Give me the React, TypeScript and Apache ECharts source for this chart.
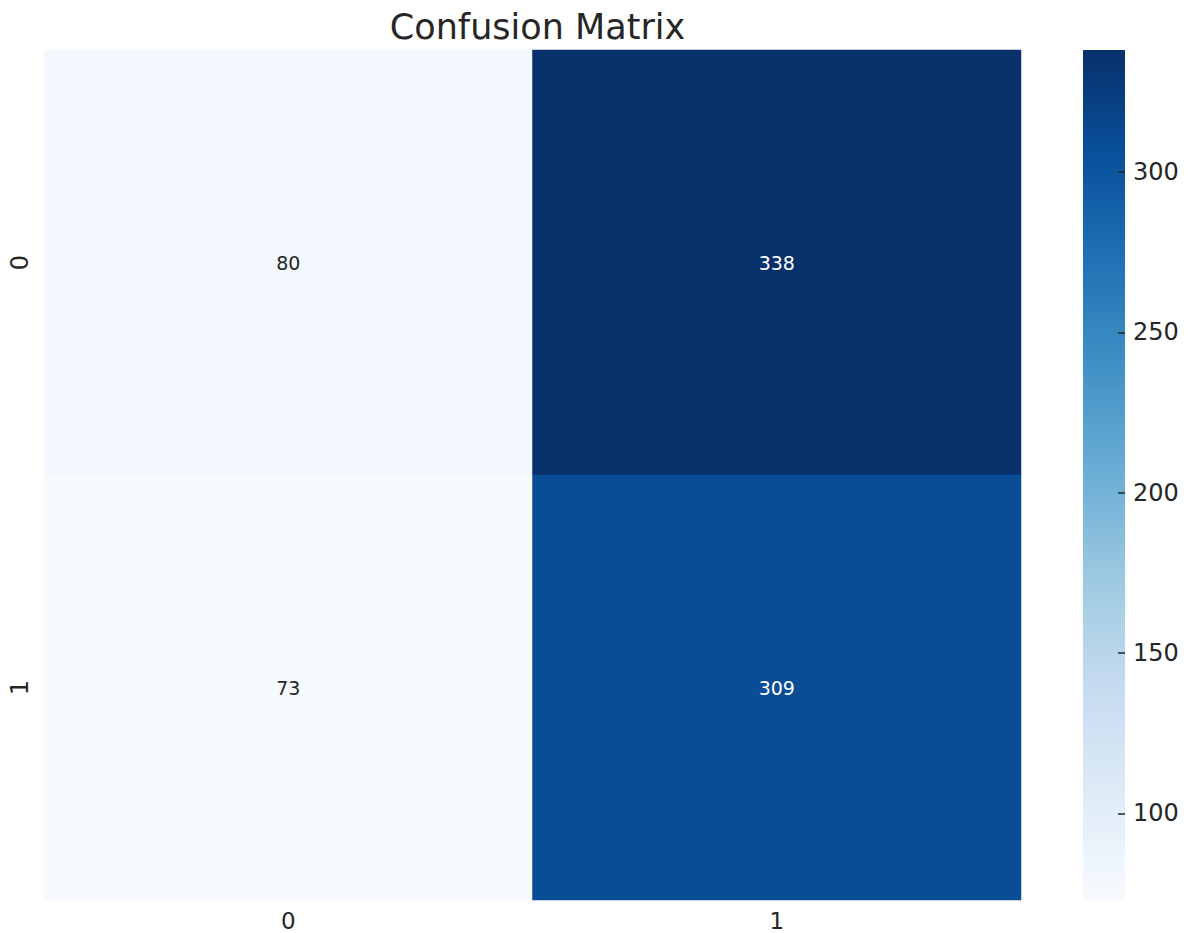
import React, { useEffect, useRef } from "react";
import * as echarts from "echarts";

const xCategories = ["0", "1"];
const yCategories = ["0", "1"];
// [row][col]
const matrix = [
  [80, 338],
  [73, 309],
];
const colorbarTicks = [100, 150, 200, 250, 300];
const blues = ["#f7fbff", "#deebf7", "#c6dbef", "#9ecae1", "#6baed6", "#4292c6", "#2171b5", "#08519c", "#08306b"];

const FONT = "DejaVu Sans";
const TXT = "#262626";

export default function App() {
  const ref = useRef<HTMLDivElement>(null);
  useEffect(() => {
    if (!ref.current) return;
    const chart = echarts.init(ref.current, null, { renderer: "svg" });
    const vmin = Math.min(...matrix.flat());
    const vmax = Math.max(...matrix.flat());
    const mid = (vmin + vmax) / 2;
    const data: any[] = [];
    matrix.forEach((row, r) =>
      row.forEach((v, c) => {
        data.push({
          value: [c, r, v],
          label: { color: v > mid ? "#ffffff" : TXT },
        });
      })
    );
    const gx = 44, gy = 50, gw = 977, gh = 850;
    const cbx = 1083, cbw = 42, tickLen = 7;
    chart.setOption({
      animation: false,
      backgroundColor: "#ffffff",
      textStyle: { fontFamily: FONT },
      title: {
        text: "Confusion Matrix",
        left: gx + gw / 2,
        textAlign: "center",
        top: 4,
        textStyle: { fontFamily: FONT, fontSize: 35, fontWeight: "normal", color: TXT },
      },
      grid: [
        { left: gx, top: gy, width: gw, height: gh },
        { left: cbx + cbw - tickLen, top: gy, width: tickLen, height: gh },
      ],
      xAxis: [
        {
          type: "category",
          data: xCategories,
          gridIndex: 0,
          position: "bottom",
          axisLine: { show: false },
          axisTick: { show: true, inside: true, length: tickLen, alignWithLabel: true, lineStyle: { color: TXT, width: 1.5 } },
          axisLabel: { color: TXT, fontSize: 23, fontFamily: FONT, margin: 9 },
          splitLine: { show: false },
        },
        { type: "value", gridIndex: 1, show: false, min: 0, max: 1 },
      ],
      yAxis: [
        {
          type: "category",
          data: yCategories,
          gridIndex: 0,
          inverse: true,
          axisLine: { show: false },
          axisTick: { show: true, inside: true, length: tickLen, alignWithLabel: true, lineStyle: { color: TXT, width: 1.5 } },
          axisLabel: { color: TXT, fontSize: 24, fontFamily: FONT, rotate: 90, margin: 12 },
          splitLine: { show: false },
        },
        {
          type: "value",
          gridIndex: 1,
          min: vmin,
          max: vmax,
          position: "right",
          axisLine: { show: false },
          splitLine: { show: false },
          axisTick: { show: true, inside: false, length: tickLen, customValues: colorbarTicks, lineStyle: { color: TXT, width: 1.5 } },
          axisLabel: { color: TXT, fontSize: 24, fontFamily: FONT, margin: 8, customValues: colorbarTicks },
          z: 10,
        },
      ],
      visualMap: {
        show: false,
        type: "continuous",
        min: vmin,
        max: vmax,
        dimension: 2,
        seriesIndex: 0,
        inRange: { color: blues },
      },
      graphic: [
        {
          type: "rect",
          shape: { x: cbx, y: gy, width: cbw, height: gh },
          style: {
            fill: new echarts.graphic.LinearGradient(
              0, 1, 0, 0,
              blues.map((c, i) => ({ offset: i / (blues.length - 1), color: c }))
            ),
          },
          z: 0,
          zlevel: 0,
        },
      ],
      series: [
        {
          type: "heatmap",
          xAxisIndex: 0,
          yAxisIndex: 0,
          data,
          label: { show: true, fontSize: 19, fontFamily: FONT },
          itemStyle: { borderWidth: 0 },
          emphasis: { disabled: true },
        },
      ],
    });
    return () => chart.dispose();
  }, []);
  return <div ref={ref} style={{ position: "fixed", left: 0, top: 0, width: 1192, height: 933 }} />;
}
